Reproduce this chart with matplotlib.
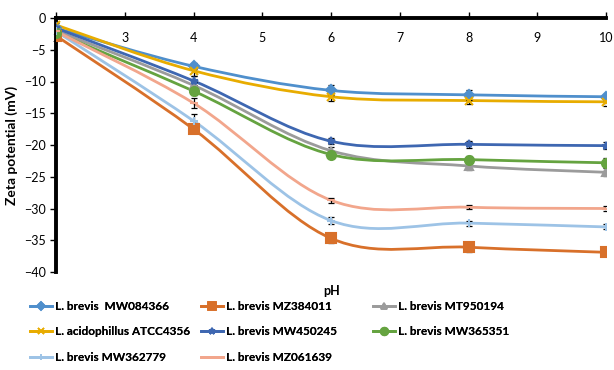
import matplotlib
matplotlib.use("Agg")
import matplotlib.pyplot as plt
from matplotlib.path import Path
from matplotlib.patches import PathPatch
from matplotlib.lines import Line2D

plt.rcParams['font.family'] = ['Lato', 'DejaVu Sans']

ph = [2, 4, 6, 8, 10]
names = ["L. brevis  MW084366", "L. brevis MZ384011", "L. brevis MT950194",
         "L. acidophillus ATCC4356", "L. brevis MW450245", "L. brevis MW365351",
         "L. brevis MW362779", "L. brevis MZ061639"]
mw084366 = [-1.6, -7.6, -11.4, -12.1, -12.4]
mz384011 = [-2.8, -17.5, -34.7, -36.1, -36.9]
mt950194 = [-2.0, -10.6, -20.9, -23.3, -24.3]
atcc4356 = [-1.1, -8.3, -12.4, -13.0, -13.2]
mw450245 = [-1.6, -9.9, -19.4, -19.9, -20.1]
mw365351 = [-2.3, -11.5, -21.5, -22.3, -22.8]
mw362779 = [-2.1, -16.2, -31.9, -32.3, -32.9]
mz061639 = [-2.1, -13.4, -28.7, -29.8, -30.0]
err084366 = [0.3, 0.5, 0.8, 0.8, 0.5]
err384011 = [0.3, 0.6, 0.7, 0.8, 0.6]
err950194 = [0.3, 0.6, 0.6, 0.6, 0.6]
err4356 = [0.3, 0.8, 0.7, 0.6, 0.6]
err450245 = [0.3, 0.7, 0.5, 0.6, 0.6]
err365351 = [0.3, 0.6, 0.6, 0.5, 0.7]
err362779 = [0.3, 1.1, 0.5, 0.4, 0.4]
err061639 = [0.3, 0.8, 0.4, 0.3, 0.4]

series = [mw084366, mz384011, mt950194, atcc4356, mw450245, mw365351, mw362779, mz061639]
errors = [err084366, err384011, err950194, err4356, err450245, err365351, err362779, err061639]
colors = ["#4F8FCC", "#D8702A", "#9B9B9B", "#E8AC00", "#3E67B1", "#65A340", "#9DC3E6", "#F2A68C"]
markers = ["D", "s", "^", "x", "*", "o", "+", "_"]
msizes = [5.5, 6.5, 6, 6, 6, 6.5, 6, 6]

fig = plt.figure(figsize=(6.14, 3.70), dpi=100)
ax = fig.add_axes([56/614, 1-272/370, 550/614, 254/370])


def smooth_path(xs, ys, t=1/6):
    verts = [(xs[0], ys[0])]
    codes = [Path.MOVETO]
    n = len(xs)
    for i in range(n - 1):
        x0, y0 = (xs[i-1], ys[i-1]) if i > 0 else (xs[i], ys[i])
        x1, y1 = xs[i], ys[i]
        x2, y2 = xs[i+1], ys[i+1]
        x3, y3 = (xs[i+2], ys[i+2]) if i + 2 < n else (xs[i+1], ys[i+1])
        c1 = (x1 + (x2 - x0) * t, y1 + (y2 - y0) * t)
        c2 = (x2 - (x3 - x1) * t, y2 - (y3 - y1) * t)
        verts += [c1, c2, (x2, y2)]
        codes += [Path.CURVE4] * 3
    return Path(verts, codes)


handles = []
for vals, err, c, m, ms, name in zip(series, errors, colors, markers, msizes, names):
    ax.add_patch(PathPatch(smooth_path(ph, vals), facecolor="none", edgecolor=c,
                           lw=2.0, zorder=2))
    ax.errorbar(ph, vals, yerr=err, fmt="none", ecolor="black", elinewidth=0.9,
                capsize=2.5, capthick=0.9, zorder=3)
    ax.plot(ph, vals, linestyle="none", marker=m, color=c, markersize=ms,
            markeredgewidth=1.5, zorder=4)
    handles.append(Line2D([], [], color=c, lw=2.0, marker=m, markersize=ms - 1,
                          markeredgewidth=1.2, label=name))

ax.set_xlim(2, 10)
ax.set_ylim(-40, 0)
ax.set_xticks(range(2, 11))
ax.set_yticks(range(-40, 1, 5))
for s in ["right", "bottom"]:
    ax.spines[s].set_visible(False)
ax.spines["top"].set_linewidth(2.8)
ax.spines["left"].set_linewidth(2.8)
ax.tick_params(axis="x", top=True, bottom=False, labeltop=True, labelbottom=False,
               direction="out", length=4, width=1, pad=-23, labelsize=9)
ax.tick_params(axis="y", direction="out", length=4, width=1, labelsize=9)
ax.set_ylabel("Zeta potential (mV)", fontsize=10, fontweight="bold", labelpad=4)
fig.text(332/614, 1-291/370, "pH", ha="center", va="center", fontsize=9, fontweight="bold")

cols = [[0, 3, 6], [1, 4, 7], [2, 5]]
xs = [30, 201, 373]
for col, x0 in zip(cols, xs):
    leg = fig.legend([handles[i] for i in col], [names[i] for i in col], ncol=1,
                     loc="upper left", bbox_to_anchor=(x0/614, 1-301/370), frameon=False,
                     prop={"weight": "bold", "size": 8.5}, handlelength=1.9, handletextpad=0.2,
                     labelspacing=1.22, borderaxespad=0, borderpad=0)
    fig.add_artist(leg)

fig.savefig("out.png", dpi=100)
